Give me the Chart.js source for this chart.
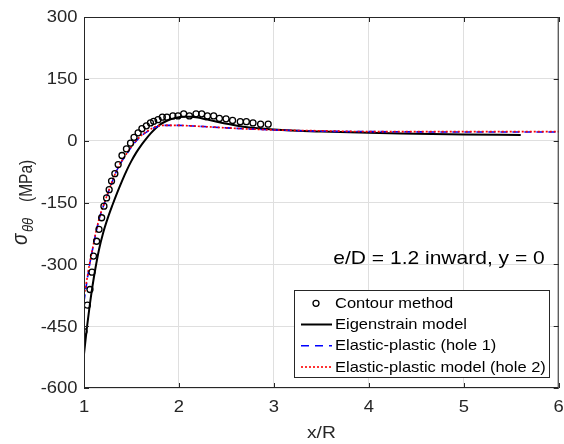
<!DOCTYPE html>
<html>
<head>
<meta charset="utf-8">
<script src="https://cdn.jsdelivr.net/npm/chart.js@4/dist/chart.umd.min.js"></script>
<style>
  html, body { margin: 0; padding: 0; background: #fff; }
  #wrap { width: 564px; height: 444px; }
</style>
</head>
<body>
<div id="wrap"><canvas id="myChart" width="564" height="444"></canvas></div>
<script>
// contour method measurements
const contourX = [1.0, 1.035, 1.063, 1.084, 1.1, 1.133, 1.158, 1.186, 1.21, 1.238, 1.265, 1.29, 1.325, 1.36,
  1.4, 1.447, 1.49, 1.527, 1.57, 1.61, 1.657, 1.7, 1.734, 1.78, 1.825, 1.873, 1.936, 1.99, 2.05, 2.11,
  2.18, 2.24, 2.3, 2.366, 2.426, 2.496, 2.565, 2.646, 2.71, 2.78, 2.86, 2.94];
const contourY = [-463, -399, -361, -319, -280, -244, -215, -187, -159, -139, -119, -98, -80, -58,
  -36, -20, -6, 8, 19, 29, 36, 43, 47, 51, 57, 57, 60, 60, 65, 60,
  65, 65, 60, 60, 54, 53, 49, 46, 46, 43, 40, 40];

// eigenstrain model
const eigenX = [1.0, 1.03, 1.06, 1.09, 1.12, 1.16, 1.2, 1.25, 1.3, 1.35, 1.4, 1.45, 1.5, 1.55, 1.6, 1.65,
  1.7, 1.75, 1.8, 1.88, 1.96, 2.05, 2.12, 2.2, 2.3, 2.4, 2.55, 2.7, 2.85, 3.0, 3.5, 4.0, 4.5, 5.0, 5.6];
const eigenY = [-518, -455, -400, -352, -310, -262, -225, -188, -156, -126, -98, -72, -49, -29, -12, 3,
  17, 29, 39, 49, 55, 58, 58, 56, 51, 46, 39, 33, 30, 27, 22, 19, 17, 15, 14];

// elastic-plastic, hole 1
const ep1X = [1.0, 1.028, 1.056, 1.09, 1.126, 1.168, 1.21, 1.28, 1.35, 1.456, 1.56, 1.666, 1.77, 1.85,
  2.0, 2.2, 2.5, 3.0, 3.5, 4.0, 5.0, 6.0];
const ep1Y = [-390, -346, -305, -264, -223, -183, -155, -110, -70, -30, 2, 22, 34, 37,
  37, 35, 31, 26, 23, 22, 21, 21];

// elastic-plastic model, hole 2
const ep2X = [1.0, 1.028, 1.056, 1.09, 1.126, 1.168, 1.21, 1.28, 1.35, 1.456, 1.56, 1.666, 1.77, 1.85,
  2.0, 2.2, 2.5, 3.0, 3.5, 4.0, 5.0, 6.0];
const ep2Y = [-376, -340, -302, -262, -221, -182, -154, -109, -69, -29, 3, 23, 35, 37,
  37, 35, 31, 26, 24, 22, 22, 22];

const xTicks = [1, 2, 3, 4, 5, 6];
const yTicks = [-600, -450, -300, -150, 0, 150, 300];

const seriesNames = ['Contour method', 'Eigenstrain model', 'Elastic-plastic (hole 1)', 'Elastic-plastic model (hole 2)'];
const noteText = 'e/D = 1.2 inward, y = 0';

function pts(xs, ys) {
  return xs.map((x, i) => ({ x: x, y: ys[i] }));
}

const FONT = "'Liberation Sans', Arial, Helvetica, sans-serif";
const AXC = '#262626';
const SX = 1.13; // the original figure is a little wider than tall

function wideText(c, txt, x, y, align, base) {
  c.save();
  c.translate(x, y);
  c.scale(SX, 1);
  c.textAlign = align;
  c.textBaseline = base;
  c.fillText(txt, 0, 0);
  c.restore();
}

// frame, inward ticks, labels, axis titles, note and legend (MATLAB look)
const decor = {
  id: 'decor',
  afterDraw(chart) {
    const c = chart.ctx;
    const a = chart.chartArea;
    const xs = chart.scales.x, ys = chart.scales.y;
    c.save();
    c.strokeStyle = AXC;
    c.lineWidth = 1;
    c.strokeRect(a.left + 0.5, a.top + 0.5, a.right - a.left - 1, a.bottom - a.top - 1);
    const tl = 5;
    c.beginPath();
    xTicks.forEach(v => {
      const px = Math.round(xs.getPixelForValue(v)) + 0.5;
      c.moveTo(px, a.bottom); c.lineTo(px, a.bottom - tl);
      c.moveTo(px, a.top); c.lineTo(px, a.top + tl);
    });
    yTicks.forEach(v => {
      const py = Math.round(ys.getPixelForValue(v)) + 0.5;
      c.moveTo(a.left, py); c.lineTo(a.left + tl, py);
      c.moveTo(a.right, py); c.lineTo(a.right - tl, py);
    });
    c.stroke();

    // tick labels
    c.fillStyle = AXC;
    c.font = '16.3px ' + FONT;
    xTicks.forEach(v => wideText(c, String(v), xs.getPixelForValue(v), 412, 'center', 'alphabetic'));
    yTicks.forEach(v => wideText(c, String(v), 77.5, ys.getPixelForValue(v) + 1, 'right', 'middle'));

    // x title
    c.font = '17px ' + FONT;
    wideText(c, 'x/R', (a.left + a.right) / 2, 437.5, 'center', 'alphabetic');

    // y title with subscript, reading upward
    c.save();
    c.translate(0, 245);
    c.scale(SX, 1);
    c.rotate(-Math.PI / 2);
    c.textAlign = 'left';
    c.textBaseline = 'alphabetic';
    c.font = 'italic 19px ' + FONT;
    c.fillText('\u03c3', 0, 27 / SX);
    c.font = 'italic 13px ' + FONT;
    c.fillText('\u03b8\u03b8', 13, 33 / SX);
    c.font = '15.5px ' + FONT;
    c.fillText('(MPa)', 43, 32 / SX);
    c.restore();

    // note
    c.fillStyle = '#000';
    c.font = '18.6px ' + FONT;
    wideText(c, noteText, 333.3, 263.5, 'left', 'alphabetic');

    // legend
    const lx = 294.5, ly = 290.5, lw = 255, lh = 87;
    c.fillStyle = '#fff';
    c.fillRect(lx, ly, lw, lh);
    c.strokeStyle = AXC;
    c.strokeRect(lx, ly, lw, lh);
    const rows = [303.3, 324.5, 345.8, 367];
    const ds = chart.data.datasets;
    rows.forEach((ry, i) => {
      const d = ds[i];
      c.save();
      c.strokeStyle = d.borderColor;
      c.lineWidth = d.borderWidth;
      if (i === 0) {
        c.lineWidth = 1.3;
        c.beginPath();
        c.arc(316, ry, 3, 0, Math.PI * 2);
        c.stroke();
      } else {
        c.setLineDash(i === 2 ? [8, 6] : (d.borderDash || []));
        c.beginPath();
        c.moveTo(301, ry); c.lineTo(332, ry);
        c.stroke();
      }
      c.restore();
      c.fillStyle = '#000';
      c.font = '14.6px ' + FONT;
      wideText(c, seriesNames[i], 335, ry + 0.5, 'left', 'middle');
    });
    c.restore();
  }
};

new Chart(document.getElementById('myChart'), {
  type: 'line',
  data: {
    datasets: [{
      label: seriesNames[0],
      data: pts(contourX, contourY),
      showLine: false,
      pointStyle: 'circle',
      pointRadius: 3,
      pointBorderWidth: 1.3,
      pointBorderColor: '#000',
      pointBackgroundColor: 'rgba(0,0,0,0)',
      borderColor: '#000',
      borderWidth: 1.3,
      order: 0
    }, {
      label: seriesNames[1],
      data: pts(eigenX, eigenY),
      borderColor: '#000',
      borderWidth: 2,
      pointRadius: 0,
      cubicInterpolationMode: 'monotone',
      order: 3
    }, {
      label: seriesNames[2],
      data: pts(ep1X, ep1Y),
      borderColor: '#0000ff',
      borderWidth: 1.6,
      borderDash: [7, 5],
      pointRadius: 0,
      cubicInterpolationMode: 'monotone',
      order: 2
    }, {
      label: seriesNames[3],
      data: pts(ep2X, ep2Y),
      borderColor: '#ff0000',
      borderWidth: 1.6,
      borderDash: [2, 2],
      pointRadius: 0,
      cubicInterpolationMode: 'monotone',
      order: 1
    }]
  },
  options: {
    responsive: false,
    animation: false,
    layout: {
      padding: { top: 17, right: 5, left: 0, bottom: 0 }
    },
    scales: {
      x: {
        type: 'linear',
        min: 1,
        max: 6,
        afterBuildTicks: s => { s.ticks = xTicks.map(v => ({ value: v })); },
        afterFit: s => { s.height = 56; s.paddingLeft = 0; s.paddingRight = 0; },
        ticks: { display: false },
        grid: { color: '#dfdfdf', drawTicks: false },
        border: { display: false }
      },
      y: {
        type: 'linear',
        min: -600,
        max: 300,
        afterBuildTicks: s => { s.ticks = yTicks.map(v => ({ value: v })); },
        afterFit: s => { s.width = 84; s.paddingTop = 0; s.paddingBottom = 0; },
        ticks: { display: false },
        grid: { color: '#dfdfdf', drawTicks: false },
        border: { display: false }
      }
    },
    plugins: {
      legend: { display: false },
      tooltip: { enabled: false }
    }
  },
  plugins: [decor]
});
</script>
</body>
</html>
